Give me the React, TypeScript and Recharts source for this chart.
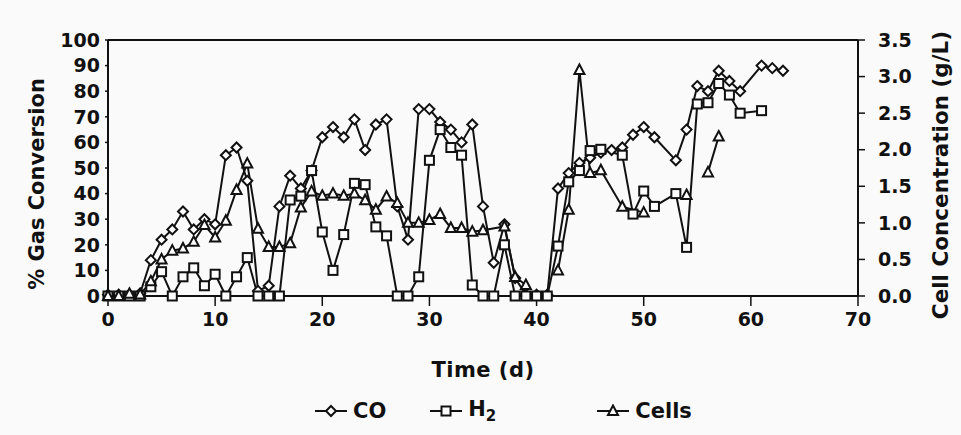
import React from "react"
import { ComposedChart, Line, XAxis, YAxis, Legend, ReferenceLine } from "recharts"

// values: day, % conversion / g/L
const coDays = [0, 1, 2, 3, 4, 5, 6, 7, 8, 9, 10, 11, 12, 13, 14, 15, 16, 17, 18, 19, 20, 21, 22, 23, 24, 25, 26, 27, 28, 29, 30, 31, 32, 33, 34, 35, 36, 37, 38, 39, 40, 41, 42, 43, 44, 45, 46, 47, 48, 49, 50, 51, 53, 54, 55, 56, 57, 58, 59, 61, 62, 63]
const coPct = [0.5, 0.5, 0.5, 1, 14, 22, 26, 33, 26, 30, 28, 55, 58, 45, 2, 4, 35, 47, 42, 49, 62, 66, 62, 69, 57, 67, 69, 35, 22, 73, 73, 68, 65, 60, 67, 35, 13, 28, 7, 0.5, 0.5, 0.5, 42, 48, 52, 54, 56, 57, 58, 63, 66, 62, 53, 65, 82, 80, 88, 84, 80, 90, 89, 88]

const h2Days = [0, 1, 2, 3, 4, 5, 6, 7, 8, 9, 10, 11, 12, 13, 14, 15, 16, 17, 18, 19, 20, 21, 22, 23, 24, 25, 26, 27, 28, 29, 30, 31, 32, 33, 34, 35, 36, 37, 38, 39, 40, 41, 42, 43, 44, 45, 46, 48, 49, 50, 51, 53, 54, 55, 56, 57, 58, 59, 61]
const h2Pct = [0, 0, 0, 0, 3.6, 9.5, 0, 7.5, 11, 4, 8.5, 0, 7.5, 15, 0, 0, 0, 37.5, 39, 49, 25, 10, 24, 44, 43.5, 27, 23.5, 0, 0, 7.5, 53, 65, 58, 55, 4.3, 0, 0, 20, 0, 0, 0, 0, 19.5, 44.6, 49, 56.8, 57.3, 55, 32, 41, 35, 40, 19, 75, 75.5, 83, 78.5, 71.4, 72.4]

const cellDays = [0, 1, 2, 3, 4, 5, 6, 7, 8, 9, 10, 11, 12, 13, 14, 15, 16, 17, 18, 19, 20, 21, 22, 23, 24, 25, 26, 27, 28, 29, 30, 31, 32, 33, 34, 35, 37, 38, 39, 40, 42, 43, 44, 45, 46, 48, 50, 52, 54, 55, 56, 57]
const cellConc = [0, 0, 0.03, 0.02, 0.2, 0.5, 0.62, 0.65, 0.74, 0.97, 0.8, 1.03, 1.45, 1.81, 0.92, 0.67, 0.67, 0.72, 1.21, 1.43, 1.37, 1.4, 1.37, 1.4, 1.31, 1.18, 1.36, 1.27, 1.0, 1.0, 1.04, 1.12, 0.93, 0.93, 0.88, 0.9, 0.95, 0.26, 0.15, null, 0.35, 1.18, 3.09, 1.68, 1.72, 1.22, 1.14, null, 1.38, null, 1.69, 2.18]

const xTicks = [0, 10, 20, 30, 40, 50, 60, 70]
const leftTicks = [0, 10, 20, 30, 40, 50, 60, 70, 80, 90, 100]
const rightTicks = [0, 0.5, 1, 1.5, 2, 2.5, 3, 3.5]

const coData = coDays.map((day, i) => ({ day, value: coPct[i] }))
const h2Data = h2Days.map((day, i) => ({ day, value: h2Pct[i] }))
const cellData = cellDays.map((day, i) => ({ day, value: cellConc[i] }))

const FONT = '"DejaVu Sans", "Liberation Sans", sans-serif'
const INK = "#111"
const tickStyle = { fontFamily: FONT, fontWeight: 700, fontSize: 19, fill: INK }

type Shape = "diamond" | "square" | "triangle"

function Marker({ cx, cy, shape }: { cx?: number; cy?: number; shape: Shape }) {
  if (cx == null || cy == null || isNaN(cx) || isNaN(cy)) return <g />
  const common = { fill: "#fff", stroke: INK, strokeWidth: 2 }
  if (shape === "diamond")
    return <polygon points={`${cx},${cy - 5} ${cx + 5},${cy} ${cx},${cy + 5} ${cx - 5},${cy}`} {...common} />
  if (shape === "square") return <rect x={cx - 4.5} y={cy - 4.5} width={9} height={9} {...common} />
  return <polygon points={`${cx},${cy - 5.5} ${cx + 5},${cy + 4} ${cx - 5},${cy + 4}`} {...common} />
}

const dotFor = (shape: Shape) => (p: any) => <Marker key={`${shape}-${p.index}`} cx={p.cx} cy={p.cy} shape={shape} />

function LegendIcon({ shape }: { shape: Shape }) {
  return (
    <svg width={32} height={14} style={{ display: "block" }}>
      <line x1={0} y1={7} x2={32} y2={7} stroke={INK} strokeWidth={2} />
      <Marker cx={16} cy={7} shape={shape} />
    </svg>
  )
}

function ChartLegend() {
  const text = { fontFamily: FONT, fontWeight: 700, fontSize: 21, color: INK, marginLeft: 6 }
  const item = { display: "flex", alignItems: "center" }
  return (
    <div style={{ display: "flex", alignItems: "center", paddingLeft: 315, height: 28 }}>
      <div style={{ ...item, marginRight: 44 }}>
        <LegendIcon shape="diamond" />
        <span style={text}>CO</span>
      </div>
      <div style={{ ...item, marginRight: 101 }}>
        <LegendIcon shape="square" />
        <span style={text}>
          H<sub style={{ fontSize: 15 }}>2</sub>
        </span>
      </div>
      <div style={item}>
        <LegendIcon shape="triangle" />
        <span style={text}>Cells</span>
      </div>
    </div>
  )
}

const VLabel = ({ x, y, text, size }: { x: number; y: number; text: string; size: number }) => (
  <text
    x={x}
    y={y}
    transform={`rotate(-90 ${x} ${y})`}
    textAnchor="middle"
    dominantBaseline="central"
    style={{ fontFamily: FONT, fontWeight: 700, fontSize: size, fill: INK }}
  >
    {text}
  </text>
)

// inner half of the crossing ticks on the right axis
const InnerTick = (p: any) => (
  <line x1={p.x} y1={p.y} x2={p.x - 6} y2={p.y} stroke={INK} strokeWidth={1.5} />
)

export default function App() {
  return (
    <div style={{ position: "absolute", left: 0, top: 0, width: 961, height: 435, background: "#fafafa" }}>
      <ComposedChart width={961} height={435} margin={{ top: 40, right: 0, left: 0, bottom: 59 }}>
        <XAxis
          dataKey="day"
          type="number"
          domain={[0, 70]}
          ticks={xTicks}
          interval={0}
          height={80}
          tickSize={10}
          tickMargin={7}
          tick={tickStyle}
          axisLine={{ stroke: INK, strokeWidth: 2 }}
          tickLine={{ stroke: INK, strokeWidth: 1.5 }}
          label={{
            content: (p: any) => (
              <text
                x={p.viewBox.x + p.viewBox.width / 2}
                y={p.viewBox.y + 74}
                textAnchor="middle"
                dominantBaseline="central"
                style={{ fontFamily: FONT, fontWeight: 700, fontSize: 21, fill: INK, letterSpacing: 0.5 }}
              >
                Time (d)
              </text>
            ),
          }}
        />
        <YAxis
          yAxisId="left"
          domain={[0, 100]}
          ticks={leftTicks}
          interval={0}
          width={108}
          tickSize={3}
          tickMargin={5}
          tick={tickStyle}
          axisLine={{ stroke: INK, strokeWidth: 2 }}
          tickLine={{ stroke: INK, strokeWidth: 1.5 }}
          label={{
            content: (p: any) => (
              <VLabel x={p.viewBox.x + 37} y={p.viewBox.y + p.viewBox.height / 2 + 16} text="% Gas Conversion" size={21} />
            ),
          }}
        />
        <YAxis
          yAxisId="right"
          orientation="right"
          domain={[0, 3.5]}
          ticks={rightTicks}
          interval={0}
          width={103}
          tickSize={7}
          tickMargin={13}
          tick={tickStyle}
          tickFormatter={(v: number) => v.toFixed(1)}
          axisLine={{ stroke: INK, strokeWidth: 2 }}
          tickLine={{ stroke: INK, strokeWidth: 1.5 }}
          label={{
            content: (p: any) => (
              <VLabel x={p.viewBox.x + 82} y={p.viewBox.y + p.viewBox.height / 2 + 7} text="Cell Concentration (g/L)" size={21.5} />
            ),
          }}
        />
        <YAxis
          yAxisId="rightIn"
          orientation="right"
          mirror
          width={0}
          domain={[0, 3.5]}
          ticks={rightTicks}
          interval={0}
          tickSize={0}
          tickMargin={0}
          tick={InnerTick}
          axisLine={false}
          tickLine={false}
        />
        <ReferenceLine yAxisId="left" y={100} stroke={INK} strokeWidth={2} />
        <Legend
          layout="horizontal"
          verticalAlign="middle"
          align="center"
          content={() => <ChartLegend />}
          wrapperStyle={{ top: 397, left: 0, width: 961 }}
        />
        <Line
          yAxisId="left"
          data={coData}
          dataKey="value"
          name="CO"
          type="linear"
          stroke={INK}
          strokeWidth={2}
          dot={dotFor("diamond")}
          activeDot={false}
          isAnimationActive={false}
        />
        <Line
          yAxisId="left"
          data={h2Data}
          dataKey="value"
          name="H2"
          type="linear"
          stroke={INK}
          strokeWidth={2}
          dot={dotFor("square")}
          activeDot={false}
          isAnimationActive={false}
        />
        <Line
          yAxisId="right"
          data={cellData}
          dataKey="value"
          name="Cells"
          type="linear"
          stroke={INK}
          strokeWidth={2}
          dot={dotFor("triangle")}
          activeDot={false}
          isAnimationActive={false}
        />
      </ComposedChart>
    </div>
  )
}
